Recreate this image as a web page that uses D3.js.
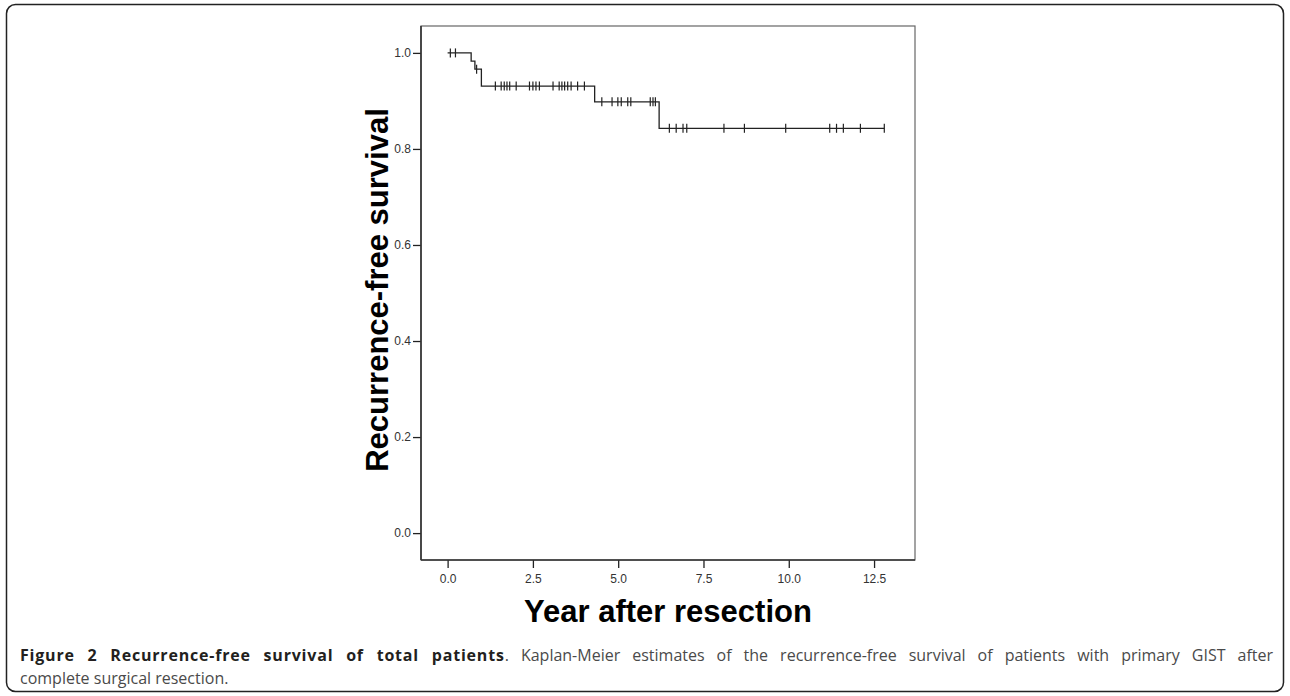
<!DOCTYPE html>
<html><head><meta charset="utf-8">
<script src="https://cdn.jsdelivr.net/npm/d3@7/dist/d3.min.js"></script>
<style>html,body{margin:0;padding:0;background:#fff;}svg{display:block;}</style>
</head><body>
<svg id="chart" width="1290" height="696"></svg>
<script>
// ---- data ----
const stepTimes = [0, 0.69, 0.80, 0.99, 4.31, 6.20, 12.80];
const stepSurvival = [1.0, 0.983, 0.966, 0.931, 0.898, 0.843, 0.843];
const censorTimes = [0.08, 0.23, 0.85, 1.40, 1.57, 1.66, 1.74, 1.82, 2.01, 2.40, 2.50, 2.59, 2.69,
  3.09, 3.27, 3.35, 3.43, 3.52, 3.62, 3.81, 4.01, 4.52, 4.82, 4.99, 5.09, 5.28, 5.37, 5.94, 6.02, 6.09,
  6.50, 6.70, 6.90, 7.01, 8.10, 8.70, 9.91, 11.20, 11.40, 11.60, 12.10, 12.80];
const xTicks = [0, 2.5, 5.0, 7.5, 10.0, 12.5];
const yTicks = [0, 0.2, 0.4, 0.6, 0.8, 1.0];
const xTitle = "Year after resection";
const yTitle = "Recurrence-free survival";
const captionBold = "Figure 2 Recurrence-free survival of total patients";
const captionRest = ". Kaplan-Meier estimates of the recurrence-free survival of patients with primary GIST after";
const captionLine2 = "complete surgical resection.";

const svg = d3.select("#chart");
svg.append("rect").attr("width",1290).attr("height",696).attr("fill","#fff");
// outer frame
svg.append("rect").attr("x",6.5).attr("y",4.5).attr("width",1277).attr("height",687)
  .attr("rx",9).attr("fill","none").attr("stroke","#222").attr("stroke-width",1.5);

const box = {left:421, right:915, top:26, bottom:560};
const x = d3.scaleLinear().domain([-0.78, 13.7]).range([box.left, box.right]);
const y = d3.scaleLinear().domain([-0.056, 1.056]).range([box.bottom, box.top]);

// box
svg.append("rect").attr("x",box.left).attr("y",box.top)
  .attr("width",box.right-box.left).attr("height",box.bottom-box.top)
  .attr("fill","none").attr("stroke","#666").attr("stroke-width",1.2);

const fmt = d3.format(".1f");
const gy = svg.append("g").attr("transform",`translate(${box.left},0)`)
  .call(d3.axisLeft(y).tickValues(yTicks).tickFormat(fmt).tickSize(8).tickPadding(2));
const gx = svg.append("g").attr("transform",`translate(0,${box.bottom})`)
  .call(d3.axisBottom(x).tickValues(xTicks).tickFormat(fmt).tickSize(8).tickPadding(6));
[gx, gy].forEach(g => {
  g.select(".domain").remove();
  g.selectAll("line").attr("stroke","#222").attr("stroke-width",1.3);
  g.selectAll("text").attr("font-family","Liberation Sans, Arial, sans-serif")
    .attr("font-size",12).attr("fill","#333");
});
svg.append("line").attr("x1",box.left).attr("x2",box.left).attr("y1",box.top).attr("y2",box.bottom)
  .attr("stroke","#333").attr("stroke-width",1.6);
svg.append("line").attr("x1",box.left).attr("x2",box.right).attr("y1",box.bottom).attr("y2",box.bottom)
  .attr("stroke","#333").attr("stroke-width",1.6);

// KM curve
const pts = stepTimes.map((t,i)=>[t, stepSurvival[i]]);
const line = d3.line().x(d=>x(d[0])).y(d=>y(d[1])).curve(d3.curveStepAfter);
svg.append("path").attr("d", line(pts)).attr("fill","none")
  .attr("stroke","#222").attr("stroke-width",1.3);

function survAt(t){
  let s = stepSurvival[0];
  for (let i=0;i<stepTimes.length;i++){ if (stepTimes[i] <= t) s = stepSurvival[i]; }
  return s;
}
svg.append("g").selectAll("line").data(censorTimes).join("line")
  .attr("x1",d=>x(d)).attr("x2",d=>x(d))
  .attr("y1",d=>y(survAt(d))-4.5).attr("y2",d=>y(survAt(d))+4.5)
  .attr("stroke","#222").attr("stroke-width",1.2);

// axis titles
svg.append("text").attr("x",(box.left+box.right)/2).attr("y",622)
  .attr("text-anchor","middle").attr("font-family","Liberation Sans, Arial, sans-serif")
  .attr("font-weight","bold").attr("font-size",31).attr("fill","#000").text(xTitle);
svg.append("text").attr("transform","translate(388,290) rotate(-90)")
  .attr("text-anchor","middle").attr("font-family","Liberation Sans, Arial, sans-serif")
  .attr("font-weight","bold").attr("font-size",31).attr("fill","#000").text(yTitle);

// caption
const capFont = "Open Sans, sans-serif";
const cap1 = svg.append("text").attr("x",20).attr("y",661)
  .attr("font-family",capFont).attr("font-size",16);
cap1.append("tspan").attr("font-weight","bold").attr("fill","#231f20")
  .attr("letter-spacing",0.8).text(captionBold);
cap1.append("tspan").attr("fill","#4a4a4a").text(captionRest);
const natural = cap1.node().getComputedTextLength();
const spaces = (captionBold + captionRest).split(" ").length - 1;
cap1.attr("word-spacing", Math.max(0, ((1273-20) - natural)/spaces));
svg.append("text").attr("x",20).attr("y",684).attr("font-family",capFont).attr("font-size",16)
  .attr("fill","#4a4a4a").text(captionLine2);
</script>
</body></html>
